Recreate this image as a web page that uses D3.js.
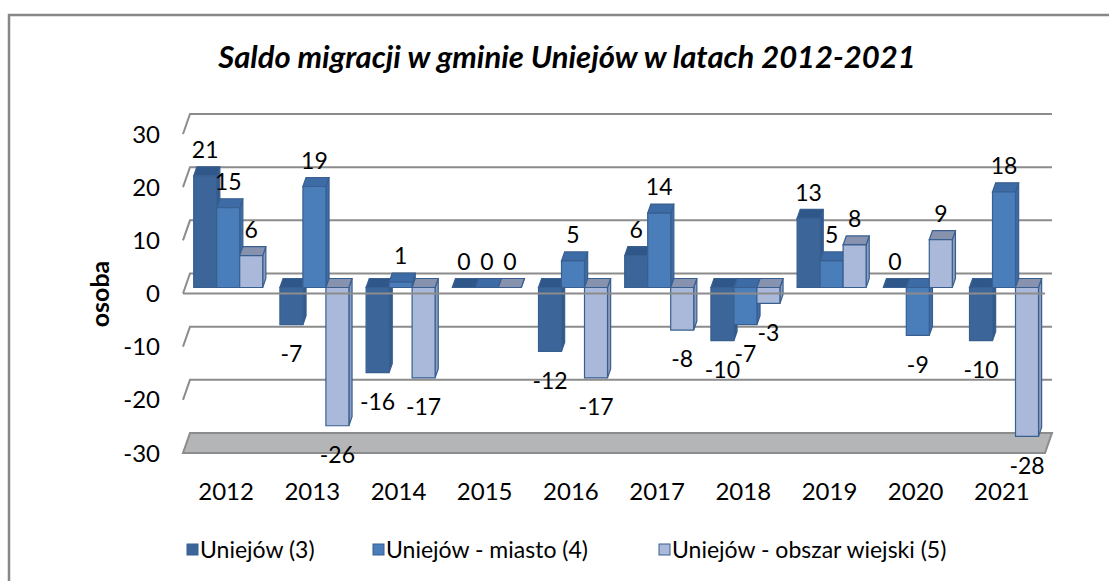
<!DOCTYPE html>
<html>
<head>
<meta charset="utf-8">
<script src="https://cdnjs.cloudflare.com/ajax/libs/d3/7.8.5/d3.min.js"></script>
<style>
    body { margin: 0; background: #fff; }
    svg text { font-family: Lato, "Noto Sans", sans-serif; fill: #000; }
</style>
</head>
<body>
<svg id="chart"></svg>
<script>
var years = ['2012', '2013', '2014', '2015', '2016', '2017', '2018', '2019', '2020', '2021'];
var seriesNames = ['Uniejów (3)', 'Uniejów - miasto (4)', 'Uniejów - obszar wiejski (5)'];
var uniejow = [21, -7, -16, 0, -12, 6, -10, 13, 0, -10];
var miasto = [15, 19, 1, 0, 5, 14, -7, 5, -9, 18];
var wies = [6, -26, -17, 0, -17, -8, -3, 8, 9, -28];
var yTicks = [-30, -20, -10, 0, 10, 20, 30];

var W = 1109, H = 581;
var svg = d3.select('#chart').attr('width', W).attr('height', H);

// frame (only top/left edges fall inside the picture)
svg.append('rect')
    .attr('x', 9).attr('y', 15)
    .attr('width', 1300).attr('height', 800)
    .attr('fill', 'none')
    .attr('stroke', '#878787')
    .attr('stroke-width', 2.5);

// 3d projection: back wall coords + depth offset
var depthDx = -7, depthDy = 20;
var backLeft = 190, backRight = 1052;
var y = d3.scaleLinear().domain([-30, 30]).range([433, 114]);
var x0 = d3.scaleBand().domain(years).range([backLeft, backRight]).padding(0);
var x1 = d3.scaleBand().domain([0, 1, 2]).range([0, x0.bandwidth()]).paddingInner(0).paddingOuter(0.374);

function pt(xb, v, d) {
    return [xb + depthDx * d, y(v) + depthDy * d];
}

var colors = [
    {front: '#3C6699', top: '#30578A', side: '#335A8C'},
    {front: '#4A7EBB', top: '#3C6BA6', side: '#3E6CA6'},
    {front: '#AAB9DA', top: '#8692AE', side: '#8F9DBD'}
];
var edge = '#385F90';

var grid = svg.append('g');

// floor
var floor = [pt(backLeft, -30, 0), pt(backRight, -30, 0), pt(backRight, -30, 1), pt(backLeft, -30, 1)];
grid.append('polygon')
    .attr('points', floor.map(function(p) { return p.join(','); }).join(' '))
    .attr('fill', '#B3B5B7')
    .attr('stroke', '#8C8C8C')
    .attr('stroke-width', 2);

// back wall gridlines and left slants
yTicks.filter(function(t) { return t > -30; }).forEach(function(t) {
    var a = pt(backLeft, t, 0), b = pt(backRight, t, 0), c = pt(backLeft, t, 1);
    grid.append('path')
        .attr('d', 'M' + c + 'L' + a + 'L' + b)
        .attr('fill', 'none')
        .attr('stroke', '#8C8C8C')
        .attr('stroke-width', 2);
});

// tick labels
svg.selectAll('.tick-label')
    .data(yTicks)
    .enter().append('text')
    .attr('class', 'tick-label')
    .attr('x', 160)
    .attr('y', function(d) { return y(d) + depthDy; })
    .attr('dy', '0.36em')
    .attr('text-anchor', 'end')
    .style('font-size', '24px')
    .text(function(d) { return d; });

// bars
var seriesValues = [uniejow, miasto, wies];
var blockData = [];
years.forEach(function(yr, i) {
    seriesValues.forEach(function(vals, s) {
        blockData.push({year: yr, s: s, v: vals[i]});
    });
});

var dFront = 0.7, dBack = 0.25;

var bar = svg.selectAll('.bar')
    .data(blockData)
    .enter().append('g')
    .attr('class', 'bar');

function poly(points) {
    return points.map(function(p) { return p.join(','); }).join(' ');
}

bar.each(function(d) {
    var g = d3.select(this),
        xl = x0(d.year) + x1(d.s),
        xr = xl + x1.bandwidth(),
        hi = Math.max(d.v, 0),
        lo = Math.min(d.v, 0),
        c = colors[d.s];

    // side face
    g.append('polygon')
        .attr('points', poly([pt(xr, hi, dFront), pt(xr, lo, dFront), pt(xr, lo, dBack), pt(xr, hi, dBack)]))
        .attr('fill', c.side).attr('stroke', edge).attr('stroke-width', 1.2);
    // top face
    g.append('polygon')
        .attr('points', poly([pt(xl, hi, dFront), pt(xr, hi, dFront), pt(xr, hi, dBack), pt(xl, hi, dBack)]))
        .attr('fill', c.top).attr('stroke', edge).attr('stroke-width', 1.2);
    // front face
    if (d.v !== 0) {
        g.append('polygon')
            .attr('points', poly([pt(xl, hi, dFront), pt(xr, hi, dFront), pt(xr, lo, dFront), pt(xl, lo, dFront)]))
            .attr('fill', c.front).attr('stroke', edge).attr('stroke-width', 1.2);
    }
});

// category axis line (front, at 0) drawn over bars
var a0 = pt(backLeft, 0, 1), a1 = pt(backRight, 0, 1);
svg.append('line')
    .attr('x1', a0[0]).attr('y1', a0[1])
    .attr('x2', a1[0]).attr('y2', a1[1])
    .attr('stroke', '#8C8C8C')
    .attr('stroke-width', 2);

// data labels
svg.selectAll('.value-label')
    .data(blockData)
    .enter().append('text')
    .attr('class', 'value-label')
    .attr('x', function(d) {
        return x0(d.year) + x1(d.s) + x1.bandwidth() / 2 + depthDx * dFront;
    })
    .attr('y', function(d) {
        if (d.v >= 0) return y(d.v) + depthDy * dBack - 17;
        return y(d.v) + depthDy * dFront + 29;
    })
    .attr('dy', '0.36em')
    .attr('text-anchor', 'middle')
    .style('font-size', '23px')
    .text(function(d) { return d.v; });

// category labels
svg.selectAll('.cat-label')
    .data(years)
    .enter().append('text')
    .attr('class', 'cat-label')
    .attr('x', function(d) { return x0(d) + x0.bandwidth() / 2 + depthDx; })
    .attr('y', 491)
    .attr('dy', '0.36em')
    .attr('text-anchor', 'middle')
    .style('font-size', '24px')
    .text(function(d) { return d; });

// title
svg.append('text')
    .attr('x', 567)
    .attr('y', 57)
    .attr('dy', '0.36em')
    .attr('text-anchor', 'middle')
    .style('font-size', '31px')
    .style('font-weight', 'bold')
    .style('font-style', 'italic')
    .text('Saldo migracji w gminie Uniejów w latach 2012-2021');

// y axis title
svg.append('text')
    .attr('transform', 'translate(100,294) rotate(-90)')
    .attr('dy', '0.36em')
    .attr('text-anchor', 'middle')
    .style('font-size', '25px')
    .style('font-weight', 'bold')
    .text('osoba');

// legend
var legendX = [187, 373, 659];
var legend = svg.selectAll('.legend')
    .data(seriesNames)
    .enter().append('g')
    .attr('class', 'legend')
    .attr('transform', function(d, i) { return 'translate(' + legendX[i] + ',550)'; });

legend.append('rect')
    .attr('x', 0).attr('y', -6)
    .attr('width', 11).attr('height', 11)
    .attr('fill', function(d, i) { return colors[i].front; })
    .attr('stroke', edge)
    .attr('stroke-width', 1);

legend.append('text')
    .attr('x', 13)
    .attr('y', 0)
    .attr('dy', '0.36em')
    .style('font-size', '23px')
    .text(function(d) { return d; });
</script>
</body>
</html>
